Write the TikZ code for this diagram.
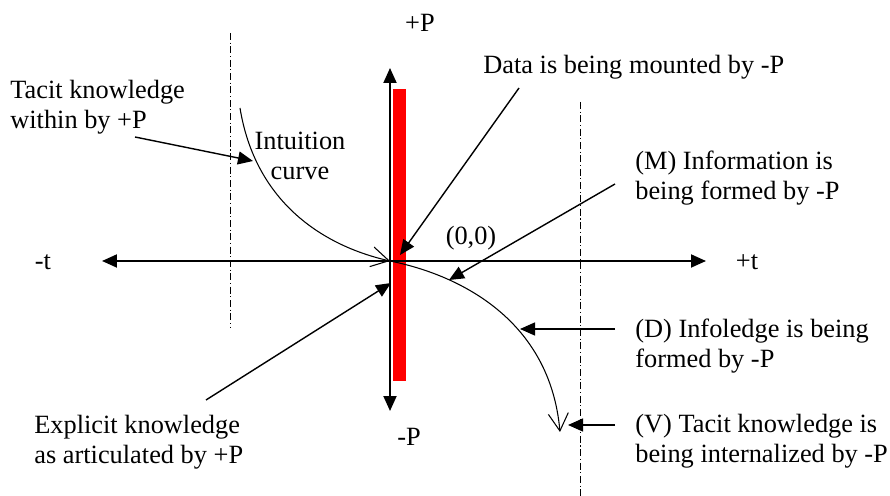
\documentclass[tikz,border=0pt]{standalone}
\usepackage{fontspec}
\setmainfont{Liberation Serif}
\usepackage{xcolor}
\usepackage{tikz}
\usetikzlibrary{arrows.meta}

\begin{document}
\begin{tikzpicture}[
      x=0.02cm, y=-0.02cm,
      lbl/.style={font=\fontsize{15}{17}\selectfont, inner sep=0pt, align=left},
      axis/.style={{Triangle[length=3mm,width=2.6mm]}-{Triangle[length=3mm,width=2.6mm]}, line width=1.1pt},
      ann/.style={-{Triangle[length=3mm,width=2.6mm]}, line width=0.8pt},
      icurve/.style={-{Straight Barb[length=3.5mm,width=4mm]}, line width=0.6pt},
      guide/.style={line width=0.5pt, dash pattern=on 4pt off 1.5pt on 0.6pt off 1.5pt},
    ]
    \useasboundingbox (0,0) rectangle (890,496);
    \fill[red] (393,89) rectangle (406,381);
    % axes
    \coordinate (tl) at (102,261);
    \coordinate (tr) at (706,261);
    \coordinate (ptop) at (390,68);
    \coordinate (pbot) at (390,411);
    \coordinate (origin) at (390,261);
    \draw[axis] (tl) -- (tr);
    \draw[axis] (ptop) -- (pbot);
    \node[lbl] (mt) at (43,262) {-t};
    \node[lbl] (plt) at (747,262) {+t};
    \node[lbl] (plp) at (420,23) {+P};
    \node[lbl] (mp) at (409,437) {-P};
    \node[lbl] (zero) at (471,238) {(0,0)};
    % guides
    \draw[guide] (230,33) -- (230,327);
    \draw[guide] (580,102) -- (580,496);
    % intuition curve
    \coordinate (ctop) at (240,108);
    \coordinate (cend) at (560,432);
    \draw[icurve] (ctop) .. controls (255,200) and (320,245) .. (origin);
    \draw[icurve] (origin) .. controls (460,275) and (550,320) .. (cend);
    \node[lbl, align=center] (intu) at (300,156) {Intuition\\curve};
    % labels
    \node[lbl, anchor=west] (tacit) at (10,107) {Tacit knowledge\\within by +P};
    \node[lbl, anchor=west] (expl) at (34,442) {Explicit knowledge\\as articulated by +P};
    \node[lbl, anchor=west] (data) at (483,67) {Data is being mounted by -P};
    \node[lbl, anchor=west] (info) at (635,178) {(M) Information is\\being formed by -P};
    \node[lbl, anchor=west] (infol) at (635,346) {(D) Infoledge is being\\formed by -P};
    \node[lbl, anchor=west] (tacv) at (635,441) {(V) Tacit knowledge is\\being internalized by -P};
    % pointers
    \coordinate (tacit-s) at (135,137);
    \coordinate (tacit-e) at (253,161);
    \coordinate (data-s) at (519,88);
    \coordinate (data-e) at (400,255);
    \coordinate (info-s) at (615,184);
    \coordinate (info-e) at (449,280);
    \coordinate (infol-s) at (615,329);
    \coordinate (infol-e) at (520,329);
    \coordinate (tacv-s) at (615,425);
    \coordinate (tacv-e) at (568,425);
    \coordinate (expl-s) at (206,400);
    \coordinate (expl-e) at (391,283);
    \draw[ann] (tacit-s) -- (tacit-e);
    \draw[ann] (data-s) -- (data-e);
    \draw[ann] (info-s) -- (info-e);
    \draw[ann] (infol-s) -- (infol-e);
    \draw[ann] (tacv-s) -- (tacv-e);
    \draw[ann] (expl-s) -- (expl-e);
  \end{tikzpicture}
\end{document}
